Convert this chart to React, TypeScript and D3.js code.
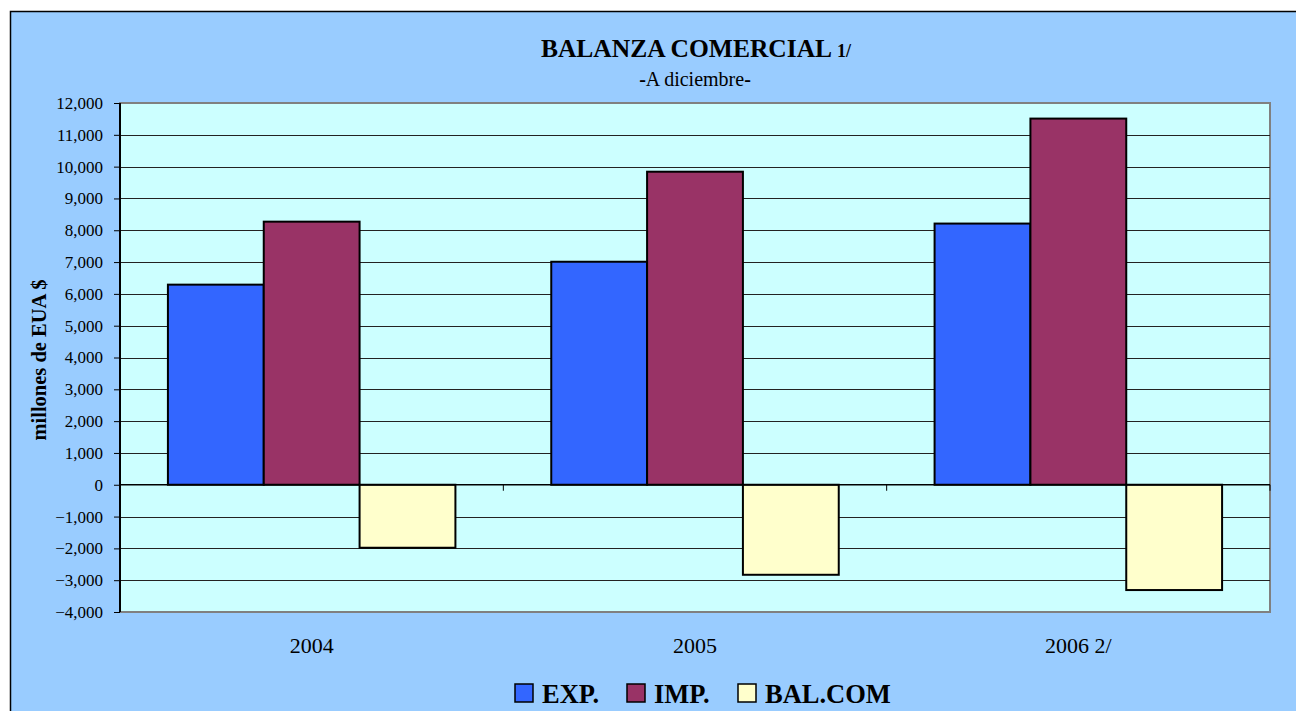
import React, { useRef, useEffect } from 'react';
import * as d3 from 'd3';

const categories = ['2004', '2005', '2006 2/'];
const seriesNames = ['EXP.', 'IMP.', 'BAL.COM'];
const expValues = [6290, 7010, 8210];
const impValues = [8270, 9840, 11510];
const balValues = [-1980, -2830, -3310];
const yTicks = [-4000, -3000, -2000, -1000, 0, 1000, 2000, 3000, 4000, 5000, 6000, 7000, 8000, 9000, 10000, 11000, 12000];
const colors = ['#3366FF', '#993366', '#FFFFCC'];

const App = () => {
  const svgRef = useRef<SVGSVGElement | null>(null);

  useEffect(() => {
    if (!svgRef.current) return;
    const svg = d3.select(svgRef.current);
    svg.selectAll('*').remove();

    const width = 1296;
    const height = 711;
    const font = '"Liberation Serif", "Times New Roman", serif';
    const plot = { left: 120, right: 1270, top: 103, bottom: 612 };

    // chart background
    svg.append('rect')
      .attr('x', 10.5).attr('y', 11.5)
      .attr('width', width).attr('height', height)
      .attr('fill', '#99CCFF').attr('stroke', '#000').attr('stroke-width', 1.5);

    // plot area
    svg.append('rect')
      .attr('x', plot.left).attr('y', plot.top)
      .attr('width', plot.right - plot.left).attr('height', plot.bottom - plot.top)
      .attr('fill', '#CCFFFF').attr('stroke', '#808080').attr('stroke-width', 2);

    const y = d3.scaleLinear().domain([-4000, 12000]).range([plot.bottom, plot.top]);
    const x0 = d3.scaleBand().domain(categories).range([plot.left, plot.right]).paddingInner(0.25).paddingOuter(0.125);
    const x1 = d3.scaleBand().domain(seriesNames).range([0, x0.bandwidth()]);
    const step = (plot.right - plot.left) / categories.length;

    // gridlines
    svg.append('g').selectAll('line')
      .data(yTicks.filter(t => t !== 0 && t !== -4000 && t !== 12000))
      .enter().append('line')
      .attr('x1', plot.left).attr('x2', plot.right)
      .attr('y1', d => Math.round(y(d)) + 0.5).attr('y2', d => Math.round(y(d)) + 0.5)
      .attr('stroke', '#222').attr('stroke-width', 1);

    // bars
    const rows = categories.map((c, i) => ({ cat: c, vals: [expValues[i], impValues[i], balValues[i]] }));
    const groups = svg.append('g').selectAll('g')
      .data(rows).enter().append('g')
      .attr('transform', d => `translate(${x0(d.cat)},0)`);
    groups.selectAll('rect')
      .data(d => d.vals.map((v, j) => ({ v, name: seriesNames[j], j })))
      .enter().append('rect')
      .attr('x', d => x1(d.name) as number)
      .attr('width', x1.bandwidth())
      .attr('y', d => y(Math.max(0, d.v)))
      .attr('height', d => Math.abs(y(d.v) - y(0)))
      .attr('fill', d => colors[d.j])
      .attr('stroke', '#000').attr('stroke-width', 2);

    // zero line and category ticks
    svg.append('line')
      .attr('x1', plot.left).attr('x2', plot.right)
      .attr('y1', y(0)).attr('y2', y(0))
      .attr('stroke', '#000').attr('stroke-width', 1.5);
    svg.append('g').selectAll('line')
      .data(d3.range(1, categories.length + 1))
      .enter().append('line')
      .attr('x1', i => plot.left + i * step).attr('x2', i => plot.left + i * step)
      .attr('y1', y(0)).attr('y2', y(0) + 6)
      .attr('stroke', '#000').attr('stroke-width', 1);

    // y axis
    const yAxis = svg.append('g').attr('transform', `translate(${plot.left},0)`)
      .call(d3.axisLeft(y).tickValues(yTicks).tickSize(6).tickPadding(11).tickFormat(d => d3.format(',')(d as number)));
    yAxis.select('.domain').attr('stroke', '#000').attr('stroke-width', 2).attr('d', `M0,${plot.top}V${plot.bottom}`);
    yAxis.selectAll('.tick line').attr('stroke', '#000');
    yAxis.selectAll('text').attr('font-family', font).attr('font-size', 17).attr('fill', '#000');

    // category labels
    svg.append('g').selectAll('text')
      .data(categories).enter().append('text')
      .attr('x', d => (x0(d) as number) + x0.bandwidth() / 2)
      .attr('y', 653)
      .attr('text-anchor', 'middle')
      .attr('font-family', font).attr('font-size', 22)
      .text(d => d);

    // y label
    svg.append('text')
      .attr('transform', `translate(46,360) rotate(-90)`)
      .attr('text-anchor', 'middle')
      .attr('font-family', font).attr('font-size', 20.5).attr('font-weight', 'bold')
      .text('millones de EUA $');

    // title
    const title = svg.append('text')
      .attr('x', 696).attr('y', 57)
      .attr('text-anchor', 'middle')
      .attr('font-family', font).attr('font-weight', 'bold');
    title.append('tspan').attr('font-size', 25.5).text('BALANZA COMERCIAL ');
    title.append('tspan').attr('font-size', 18).text('1/');
    const sub = svg.append('text')
      .attr('x', 695).attr('y', 86)
      .attr('text-anchor', 'middle')
      .attr('font-family', font).attr('font-size', 20);
    sub.append('tspan').attr('font-weight', 'bold').text('-');
    sub.append('tspan').text('A diciembre');
    sub.append('tspan').attr('font-weight', 'bold').text('-');

    // legend
    const legendX = [515, 627, 738];
    const legend = svg.append('g').selectAll('g')
      .data(seriesNames).enter().append('g')
      .attr('transform', (d, i) => `translate(${legendX[i]},684)`);
    legend.append('rect')
      .attr('width', 18).attr('height', 18)
      .attr('fill', (d, i) => colors[i])
      .attr('stroke', '#000').attr('stroke-width', 1.5);
    legend.append('text')
      .attr('x', 27).attr('y', 19)
      .attr('font-family', font).attr('font-size', 26.5).attr('font-weight', 'bold')
      .text(d => d);
  }, []);

  return (
    <svg ref={svgRef} width={1296} height={711} style={{ position: 'absolute', left: 0, top: 0, display: 'block' }}></svg>
  );
};

export default App;
